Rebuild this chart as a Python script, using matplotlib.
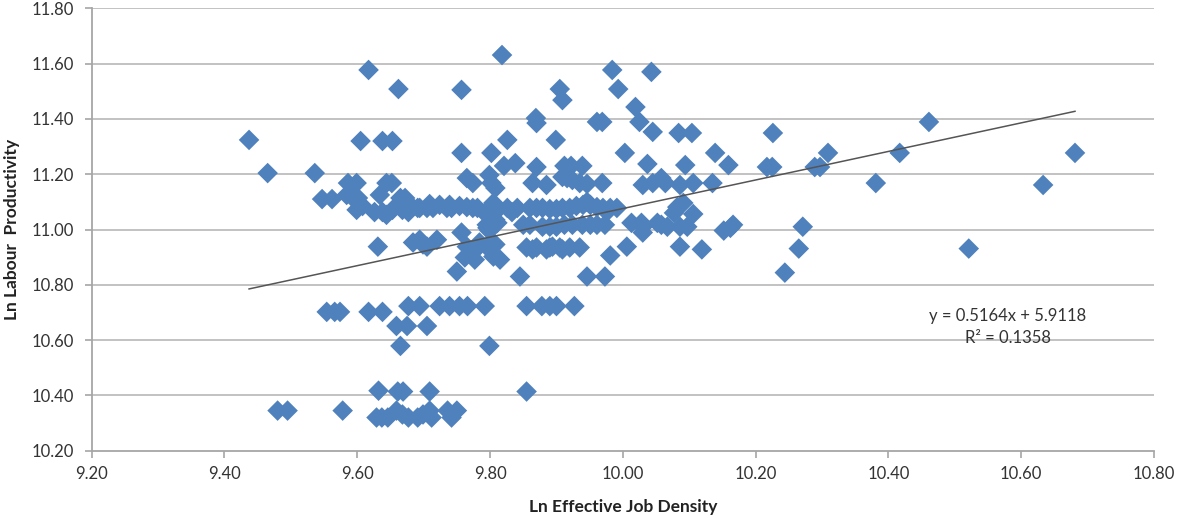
import matplotlib
matplotlib.use("Agg")
import matplotlib.pyplot as plt
import numpy as np

plt.rcParams['font.family'] = ['Lato', 'DejaVu Sans']

# Ln Effective Job Density (x) and Ln Labour Productivity (y)
job_density = [
    9.437, 9.465, 9.536, 9.547, 9.562, 9.584, 9.592, 9.601, 9.586, 9.599,
    9.599, 9.605, 9.608, 9.554, 9.566, 9.574, 9.480, 9.495, 9.578,
    9.617, 9.638, 9.653, 9.662, 9.644, 9.652, 9.634, 9.626, 9.638, 9.644,
    9.665, 9.672, 9.675, 9.653, 9.668, 9.677, 9.694, 9.705, 9.714, 9.709,
    9.724, 9.739, 9.754, 9.765, 9.680, 9.691, 9.735, 9.742, 9.774, 9.781,
    9.757, 9.757, 9.631, 9.684, 9.694, 9.705, 9.720, 9.699, 9.750, 9.765,
    9.774, 9.757, 9.617, 9.638, 9.677, 9.694, 9.724, 9.739, 9.754, 9.766,
    9.659, 9.675, 9.705, 9.665, 9.632, 9.661, 9.669, 9.709, 9.629, 9.637,
    9.646, 9.659, 9.668, 9.677, 9.691, 9.699, 9.709, 9.712, 9.736, 9.742,
    9.750, 9.765, 9.774, 9.762, 9.777,
    9.818, 9.826, 9.802, 9.821, 9.838, 9.870, 9.869, 9.870, 9.899, 9.799,
    9.802, 9.808, 9.864, 9.885, 9.909, 9.916, 9.924, 9.935, 9.946, 9.969,
    9.912, 9.922, 9.939, 9.905, 9.909, 9.984, 9.993, 10.019, 9.961, 9.969,
    10.025, 10.045, 10.003, 10.037, 10.030, 10.045, 10.058, 10.064, 10.043,
    9.805, 9.808, 9.792, 9.808, 9.796, 9.826, 9.833, 9.841, 9.860, 9.870,
    9.879, 9.890, 9.900, 9.909, 9.920, 9.930, 9.940, 9.946, 9.951, 9.961,
    9.970, 9.979, 9.981, 9.991,
    9.795, 9.799, 9.811, 9.850, 9.860, 9.879, 9.890, 9.900, 9.912, 9.924,
    9.939, 9.951, 9.961, 9.973,
    10.013, 10.028, 10.030, 10.030, 10.052, 10.067, 10.058, 10.086, 10.097,
    10.152, 10.162, 10.166, 10.271,
    9.795, 9.808, 9.784, 9.805, 9.855, 9.864, 9.870, 9.885, 9.890, 9.894,
    9.905, 9.909, 9.920, 9.935, 10.006, 9.815, 9.981, 9.845, 9.946, 9.973,
    9.792, 9.855, 9.878, 9.890, 9.900, 9.927, 9.799, 9.855,
    10.084, 10.104, 10.226, 10.139, 10.309, 10.094, 10.159, 10.217, 10.225,
    10.289, 10.297, 10.086, 10.106, 10.135, 10.082, 10.091, 10.077, 10.106,
    10.086, 10.119, 10.265, 10.244, 10.461, 10.381, 10.417, 10.521, 10.633,
    10.681,
]
labour_productivity = [
    11.324, 11.204, 11.204, 11.110, 11.110, 11.125, 11.118, 11.114, 11.168, 11.168,
    11.071, 11.320, 11.085, 10.702, 10.702, 10.702, 10.345, 10.345, 10.345,
    11.577, 11.320, 11.320, 11.508, 11.168, 11.168, 11.125, 11.063, 11.063, 11.053,
    11.114, 11.114, 11.100, 11.071, 11.071, 11.063, 11.078, 11.078, 11.078, 11.092,
    11.089, 11.089, 11.085, 11.081, 11.078, 11.078, 11.078, 11.078, 11.078, 11.078,
    11.277, 10.989, 10.938, 10.953, 10.963, 10.938, 10.963, 10.946, 10.848, 11.186,
    11.168, 11.505, 10.702, 10.702, 10.723, 10.723, 10.723, 10.723, 10.723, 10.723,
    10.651, 10.651, 10.651, 10.579, 10.417, 10.414, 10.414, 10.414, 10.320, 10.320,
    10.320, 10.345, 10.331, 10.320, 10.320, 10.331, 10.345, 10.320, 10.345, 10.320,
    10.345, 10.938, 10.917, 10.899, 10.891,
    11.631, 11.324, 11.277, 11.230, 11.240, 11.226, 11.403, 11.385, 11.324, 11.197,
    11.168, 11.150, 11.168, 11.161, 11.190, 11.186, 11.179, 11.168, 11.165, 11.168,
    11.230, 11.230, 11.230, 11.508, 11.468, 11.577, 11.508, 11.443, 11.389, 11.389,
    11.389, 11.353, 11.277, 11.237, 11.161, 11.168, 11.186, 11.168, 11.570,
    11.096, 11.063, 11.060, 11.035, 11.006, 11.078, 11.063, 11.078, 11.078, 11.078,
    11.078, 11.074, 11.074, 11.078, 11.078, 11.085, 11.089, 11.100, 11.089, 11.081,
    11.078, 11.071, 11.078, 11.078,
    11.017, 10.996, 11.024, 11.017, 11.017, 11.010, 11.010, 11.010, 11.017, 11.017,
    11.017, 11.017, 11.017, 11.017,
    11.024, 11.024, 10.989, 11.010, 11.024, 11.010, 11.017, 11.010, 11.010,
    10.996, 11.006, 11.017, 11.010,
    10.938, 10.946, 10.953, 10.902, 10.935, 10.928, 10.935, 10.928, 10.935, 10.938,
    10.935, 10.928, 10.935, 10.935, 10.938, 10.891, 10.906, 10.830, 10.830, 10.830,
    10.723, 10.723, 10.723, 10.723, 10.723, 10.723, 10.579, 10.414,
    11.349, 11.349, 11.349, 11.277, 11.277, 11.233, 11.233, 11.226, 11.226,
    11.226, 11.226, 11.161, 11.168, 11.168, 11.081, 11.096, 11.060, 11.056,
    10.938, 10.928, 10.931, 10.844, 11.389, 11.168, 11.277, 10.931, 11.161,
    11.277,
]

# Linear trendline shown on the chart
slope = 0.5164
intercept = 5.9118
r_squared = 0.1358

x_ticks = [9.20, 9.40, 9.60, 9.80, 10.00, 10.20, 10.40, 10.60, 10.80]
y_ticks = [10.20, 10.40, 10.60, 10.80, 11.00, 11.20, 11.40, 11.60, 11.80]

W, H = 1177, 517
fig = plt.figure(figsize=(W / 100, H / 100), dpi=100)
ax = fig.add_axes([91.7 / W, 1 - 450.7 / H, (1154 - 91.7) / W, (450.7 - 8.3) / H])

ax.set_xlim(x_ticks[0], x_ticks[-1])
ax.set_ylim(y_ticks[0], y_ticks[-1])
ax.set_xticks(x_ticks)
ax.set_yticks(y_ticks)
ax.set_xticklabels([f"{t:.2f}" for t in x_ticks])
ax.set_yticklabels([f"{t:.2f}" for t in y_ticks])

grid_col = "#BDBDBD"
for t in y_ticks[1:]:
    ax.axhline(t, color=grid_col, lw=1.3, zorder=0)
for s in ["top", "right"]:
    ax.spines[s].set_visible(False)
for s in ["left", "bottom"]:
    ax.spines[s].set_color("#A6A6A6")
    ax.spines[s].set_linewidth(1.3)
ax.tick_params(axis="both", direction="out", length=5, width=1.2, color="#A6A6A6",
               labelsize=12, labelcolor="#333333")
ax.tick_params(axis="x", pad=6)
ax.tick_params(axis="y", pad=8)

ax.scatter(job_density, labour_productivity, marker="D", s=110, color="#4F81BD",
           edgecolors="none", zorder=3)

xs = np.array([min(job_density), max(job_density)])
ax.plot(xs, slope * xs + intercept, color="#555555", lw=1.1, zorder=4)

ax.text(10.58, 10.688, f"y = {slope}x + {intercept}", ha="center", va="center",
        fontsize=12, color="#333333")
ax.text(10.58, 10.608, f"R² = {r_squared}", ha="center", va="center",
        fontsize=12, color="#333333")

ax.set_xlabel("Ln Effective Job Density", fontsize=12.5, fontweight="bold",
              color="#222222", labelpad=12)
ax.set_ylabel("Ln Labour  Productivity", fontsize=12.5, fontweight="bold",
              color="#222222", labelpad=8)

fig.savefig("out.png", dpi=100)
